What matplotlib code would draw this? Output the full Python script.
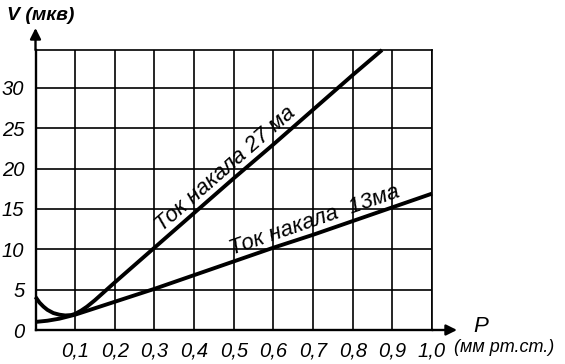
import numpy as np
import matplotlib
matplotlib.use("Agg")
import matplotlib.pyplot as plt

# ---- data ----
p_27 = [0.0, 0.01, 0.02, 0.03, 0.045, 0.06, 0.075, 0.09, 0.10, 0.115, 0.13, 0.15,
        0.20, 0.30, 0.40, 0.50, 0.60, 0.70, 0.80, 0.874]
v_27 = [4.1, 3.4, 2.9, 2.5, 2.1, 1.9, 1.8, 1.85, 2.0, 2.4, 2.9, 3.7,
        5.9, 10.2, 14.5, 18.8, 23.0, 27.3, 31.6, 34.7]
p_13 = [0.0, 0.03, 0.06, 0.10, 0.15, 0.20, 0.30, 0.40, 0.50, 0.60, 0.70, 0.80, 0.90, 1.0]
v_13 = [1.0, 1.15, 1.4, 1.9, 2.7, 3.5, 5.1, 6.8, 8.5, 10.2, 11.8, 13.5, 15.2, 16.9]

x_ticks = [0.1, 0.2, 0.3, 0.4, 0.5, 0.6, 0.7, 0.8, 0.9, 1.0]
x_labels = ["0,1", "0,2", "0,3", "0,4", "0,5", "0,6", "0,7", "0,8", "0,9", "1,0"]
y_ticks = [0, 5, 10, 15, 20, 25, 30]
y_labels = ["0", "5", "10", "15", "20", "25", "30"]

label_27 = "Ток накала 27 ма"
label_13 = "Ток накала  13ма"
y_title = "V (мкв)"
x_title = "P"
x_unit = "(мм рт.ст.)"

FONT = "Liberation Sans"
plt.rcParams['font.family'] = [FONT, 'DejaVu Sans']

W, H = 565, 364
fig = plt.figure(figsize=(W / 100, H / 100), dpi=100)
left, right, top, bottom = 35.5, 432, 50, 330
ax = fig.add_axes([left / W, (H - bottom) / H, (right - left) / W, (bottom - top) / H])
ax.set_xlim(0, 1.0)
ax.set_ylim(0, 34.7)

ax.set_xticks(x_ticks)
ax.set_xticklabels(x_labels, fontsize=14.5, style='italic')
ax.set_yticks(y_ticks)
ax.set_yticklabels(y_labels, fontsize=14.5, style='italic')
ax.tick_params(length=0, pad=8)
ax.grid(True, color='black', lw=1.2)
for s in ax.spines.values():
    s.set_color('black')
    s.set_linewidth(1.2)
ax.spines['left'].set_linewidth(1.7)
ax.spines['bottom'].set_linewidth(1.7)

ax.plot(p_27, v_27, color='black', lw=2.8, solid_capstyle='butt', clip_on=False)
ax.plot(p_13, v_13, color='black', lw=2.8, solid_capstyle='butt', clip_on=False)

# arrows of axes
ax.annotate('', xy=(0, 1 + 22 / 280), xytext=(0, 1), xycoords='axes fraction',
            arrowprops=dict(arrowstyle='-|>', color='black', lw=1.7, mutation_scale=16,
                            shrinkA=0, shrinkB=0), annotation_clip=False)
ax.annotate('', xy=(1 + 25 / 396.5, 0), xytext=(1, 0), xycoords='axes fraction',
            arrowprops=dict(arrowstyle='-|>', color='black', lw=1.7, mutation_scale=16,
                            shrinkA=0, shrinkB=0), annotation_clip=False)

fig.text(7 / W, 1 - 15 / H, y_title, fontsize=14, style='italic', weight='bold',
         ha='left', va='center')
fig.text(481 / W, 1 - 326 / H, x_title, fontsize=16, style='italic',
         ha='center', va='center')
fig.text(454 / W, 1 - 348 / H, x_unit, fontsize=13, style='italic',
         ha='left', va='center')

def line_angle(p, v):
    a = ax.transData.transform((p[-3], v[-3]))
    b = ax.transData.transform((p[-2], v[-2]))
    return np.degrees(np.arctan2(b[1] - a[1], b[0] - a[0]))

ang27 = line_angle(p_27, v_27)
ang13 = line_angle(p_13, v_13)

def put(p0, v0, ang, off, txt, size):
    nx, ny = -np.sin(np.radians(ang)) * off, np.cos(np.radians(ang)) * off
    ax.annotate(txt, xy=(p0, v0), xytext=(nx, ny), textcoords='offset pixels',
                rotation=ang, rotation_mode='anchor', ha='center', va='baseline',
                fontsize=size, style='italic')

put(0.50, np.interp(0.50, p_27, v_27), ang27, 7, label_27, 16)
put(0.715, np.interp(0.715, p_13, v_13), ang13, 7, label_13, 16)

fig.savefig("out.png", dpi=100)
